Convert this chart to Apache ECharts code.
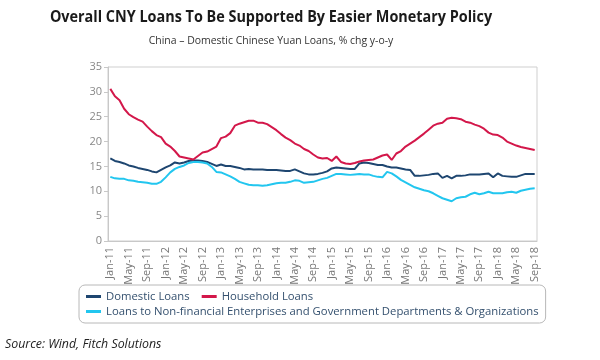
<!DOCTYPE html>
<html><head><meta charset="utf-8">
<script src="https://cdn.jsdelivr.net/npm/echarts@6/dist/echarts.min.js"></script>
<style>html,body{margin:0;padding:0;background:#fff}#c{width:600px;height:360px}</style>
</head><body><div id="c"></div>
<script>
const months = (function(){const m=['Jan','Feb','Mar','Apr','May','Jun','Jul','Aug','Sep','Oct','Nov','Dec'];const out=[];for(let y=11;y<=18;y++){for(let i=0;i<12;i++){if(y===18&&i>8)break;out.push(m[i]+'-'+y);}}return out;})();
const domesticLoans = [16.6,16.1,15.9,15.6,15.2,15.0,14.7,14.5,14.3,14.0,13.8,14.3,14.8,15.2,15.8,15.6,15.8,16.1,16.2,16.2,16.1,15.9,15.5,15.1,15.4,15.1,15.1,14.9,14.7,14.4,14.5,14.4,14.4,14.4,14.3,14.3,14.3,14.2,14.1,14.1,14.4,14.0,13.6,13.4,13.4,13.5,13.7,14.0,14.6,14.8,14.7,14.6,14.5,14.5,15.6,15.8,15.7,15.5,15.3,15.3,15.0,14.8,14.8,14.6,14.4,14.3,13.1,13.1,13.2,13.3,13.5,13.6,12.7,13.1,12.6,13.1,13.1,13.2,13.4,13.4,13.4,13.5,13.6,12.8,13.6,13.1,13.0,12.9,12.9,13.2,13.5,13.5,13.5];
const householdLoans = [30.6,29.1,28.3,26.6,25.5,24.9,24.4,24.0,23.0,22.1,21.3,20.9,19.6,19.0,18.1,17.0,16.8,16.6,16.4,17.1,17.8,18.0,18.5,19.0,20.7,21.0,21.7,23.2,23.6,23.9,24.2,24.2,23.8,23.8,23.5,22.9,22.3,21.5,20.8,20.3,19.6,19.2,18.5,18.1,17.4,16.8,16.6,16.7,16.1,17.0,15.9,15.6,15.5,15.7,16.0,16.2,16.3,16.4,16.8,17.2,17.4,16.3,17.6,18.1,19.0,19.6,20.2,20.9,21.6,22.4,23.2,23.6,23.8,24.6,24.8,24.7,24.5,24.0,23.8,23.4,23.1,22.6,21.8,21.4,21.3,20.8,20.0,19.6,19.2,18.9,18.7,18.5,18.3];
const nonFinancialLoans = [12.9,12.6,12.5,12.5,12.2,12.1,11.9,11.8,11.7,11.5,11.5,11.9,12.8,13.8,14.5,14.9,15.2,15.7,15.9,15.9,15.8,15.6,14.9,13.9,13.8,13.4,13.0,12.5,11.9,11.6,11.3,11.2,11.2,11.1,11.2,11.4,11.6,11.7,11.7,11.9,12.2,12.1,11.7,11.8,11.9,12.2,12.5,12.7,13.1,13.5,13.5,13.4,13.3,13.4,13.5,13.4,13.4,13.1,12.9,12.8,13.9,13.6,13.0,12.3,11.8,11.3,10.8,10.5,10.2,10.0,9.6,9.1,8.6,8.3,8.0,8.6,8.8,8.9,9.4,9.7,9.4,9.6,9.9,9.6,9.6,9.6,9.8,9.9,9.7,10.1,10.3,10.5,10.6];
const seriesNames = ['Domestic Loans','Household Loans','Loans to Non-financial Enterprises and Government Departments & Organizations'];
const titleText = 'Overall CNY Loans To Be Supported By Easier Monetary Policy';
const subtitleText = 'China \u2013 Domestic Chinese Yuan Loans, % chg y-o-y';
const sourceText = 'Source: Wind, Fitch Solutions';

const FONT = '"Open Sans", "Noto Sans", sans-serif';
const chart = echarts.init(document.getElementById('c'), null, {renderer:'canvas'});
chart.setOption({
  animation:false,
  textStyle:{fontFamily:FONT},
  graphic:[
    {type:'text', x:271, y:9, scaleX:0.9, style:{text:titleText, font:'bold 16px '+FONT, fill:'#1a1a1a', textAlign:'center'}},
    {type:'text', x:271, y:35, scaleX:0.95, style:{text:subtitleText, font:'11px '+FONT, fill:'#333', textAlign:'center'}},
    {type:'text', x:5, y:338, scaleX:0.95, style:{text:sourceText, font:'italic 13px '+FONT, fill:'#222'}}
  ],
  grid:{left:108, right:63, top:67, bottom:119, show:true, borderColor:'#cfcfcf', borderWidth:1},
  legend:{
    left:79, top:285, width:470,
    data:[
      {name:seriesNames[0], textStyle:{padding:[0,12,0,0]}},
      {name:seriesNames[1]},
      {name:seriesNames[2]}
    ],
    icon:'rect', itemWidth:15, itemHeight:3, itemGap:0,
    textStyle:{fontSize:11.3, lineHeight:15, color:'#34506e', fontFamily:FONT},
    borderColor:'#b8b8b8', borderWidth:1, borderRadius:6, padding:[4,7,4,7]
  },
  xAxis:{
    type:'category', data:months, boundaryGap:true,
    axisLine:{lineStyle:{color:'#c8c8c8'}},
    axisTick:{interval:0, length:3, lineStyle:{color:'#c8c8c8'}},
    axisLabel:{interval:3, rotate:90, fontSize:11, color:'#777', margin:6}
  },
  yAxis:{
    type:'value', min:0, max:35, interval:5,
    axisLine:{show:true, lineStyle:{color:'#c8c8c8'}},
    axisTick:{show:true, length:4, lineStyle:{color:'#c8c8c8'}},
    axisLabel:{fontSize:11, color:'#888', margin:6},
    splitLine:{show:false}
  },
  series:[
    {name:seriesNames[0], type:'line', data:domesticLoans, showSymbol:false, lineStyle:{width:2, color:'#1e4670'}, itemStyle:{color:'#1e4670'}},
    {name:seriesNames[1], type:'line', data:householdLoans, showSymbol:false, lineStyle:{width:2, color:'#d3174a'}, itemStyle:{color:'#d3174a'}},
    {name:seriesNames[2], type:'line', data:nonFinancialLoans, showSymbol:false, lineStyle:{width:2, color:'#22c6ef'}, itemStyle:{color:'#22c6ef'}}
  ]
});
</script></body></html>
